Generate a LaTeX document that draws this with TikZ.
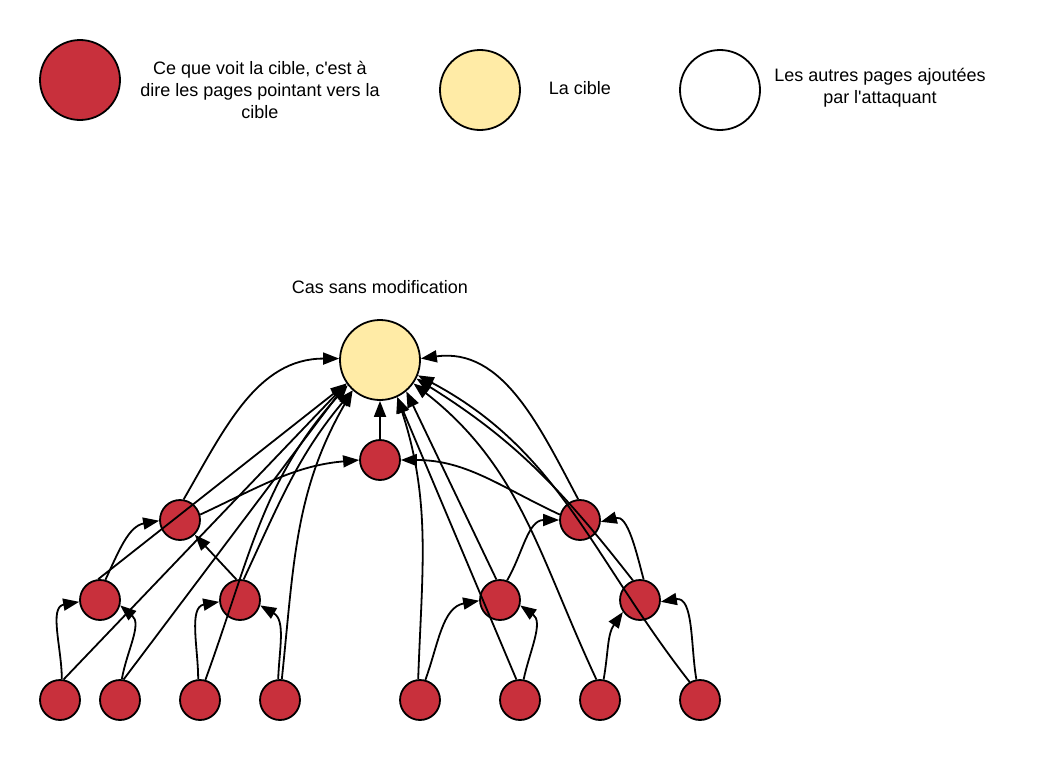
\documentclass[tikz,border=0pt]{standalone}
\usetikzlibrary{arrows.meta}
\font\lsans="Liberation Sans" at 18pt
\definecolor{cred}{HTML}{C8303C}
\definecolor{cyel}{HTML}{FFEBA6}
\begin{document}
\begin{tikzpicture}[x=1pt,y=1pt,
  big/.style={circle,draw=black,line width=1.8pt,minimum size=80pt,inner sep=0pt},
  small/.style={circle,draw=black,line width=1.8pt,fill=cred,minimum size=40pt,inner sep=0pt},
  lbl/.style={font={\lsans\baselineskip=22pt},align=center,inner sep=0pt},
  link/.style={line width=1.8pt,-{Triangle[length=16pt,width=12pt]}},
]
\useasboundingbox (0,0) rectangle (1040,-760);
% legend
\node[big,fill=cred] (k1) at (80,-80) {};
\node[big,fill=cyel] (k2) at (480,-90) {};
\node[big,fill=white] (k3) at (720,-90) {};
\node[lbl] (t1) at (260,-90) {Ce que voit la cible, c'est à\\dire les pages pointant vers la\\cible};
\node[lbl] (t2) at (580,-88) {La cible};
\node[lbl] (t3) at (880,-88) {Les autres pages ajoutées\\par l'attaquant};
\node[lbl] (title) at (380,-287) {Cas sans modification};
% graph
\node[big,fill=cyel] (T) at (380,-360) {};
\node[small] (M) at (380,-460) {};
\node[small] (L1) at (180,-520) {};
\node[small] (R1) at (580,-520) {};
\node[small] (A) at (100,-600) {};
\node[small] (B) at (240,-600) {};
\node[small] (C) at (500,-600) {};
\node[small] (D) at (640,-600) {};
\node[small] (l1) at (60,-700) {};
\node[small] (l2) at (120,-700) {};
\node[small] (l3) at (200,-700) {};
\node[small] (l4) at (280,-700) {};
\node[small] (l5) at (420,-700) {};
\node[small] (l6) at (520,-700) {};
\node[small] (l7) at (600,-700) {};
\node[small] (l8) at (700,-700) {};
% edges, left half
\draw[link] (M.north) -- (T.south);
\draw[link] (L1.15) to[out=25,in=185] (M.west);
\draw[link] (L1.80) to[out=60,in=180] (T.178);
\draw[link] (A.75) to[out=65,in=190] (L1.182);
\draw[link] (A.95) -- (T.215);
\draw[link] (l1.80) -- (T.215);
\draw[link] (l1.85) to[out=90,in=190] (A.185);
\draw[link] (l2.80) -- (T.215);
\draw[link] (l2.85) to[out=80,in=-40] (A.345);
\draw[link] (l3.75) to[out=70,in=228] (T.218);
\draw[link] (l3.95) to[out=90,in=190] (B.185);
\draw[link] (l4.85) to[out=84,in=240] (T.228);
\draw[link] (l4.95) to[out=88,in=-30] (B.345);
\draw[link] (B.100) -- (L1.315);
\draw[link] (B.80) to[out=65,in=230] (T.228);
% edges, right half
\draw[link] (R1.165) to[out=155,in=0] (M.east);
\draw[link] (l5.95) to[out=88,in=-72] (T.295);
\draw[link] (l5.75) to[out=70,in=190] (C.182);
\draw[link] (l6.100) -- (T.295);
\draw[link] (l6.80) to[out=78,in=-35] (C.345);
\draw[link] (C.100) -- (T.310);
\draw[link] (C.70) to[out=60,in=180] (R1.180);
\draw[link] (l7.100) to[out=115,in=-38] (T.325);
\draw[link] (l7.80) to[out=80,in=235] (D.215);
\draw[link] (l8.100) to[out=100,in=10] (D.355);
\draw[link] (l8.120) to[out=128,in=-28] (T.338);
\draw[link] (D.110) to[out=128,in=-32] (T.333);
\draw[link] (D.80) to[out=105,in=15] (R1.355);
\draw[link] (R1.95) to[out=118,in=8] (T.2);
\end{tikzpicture}
\end{document}
